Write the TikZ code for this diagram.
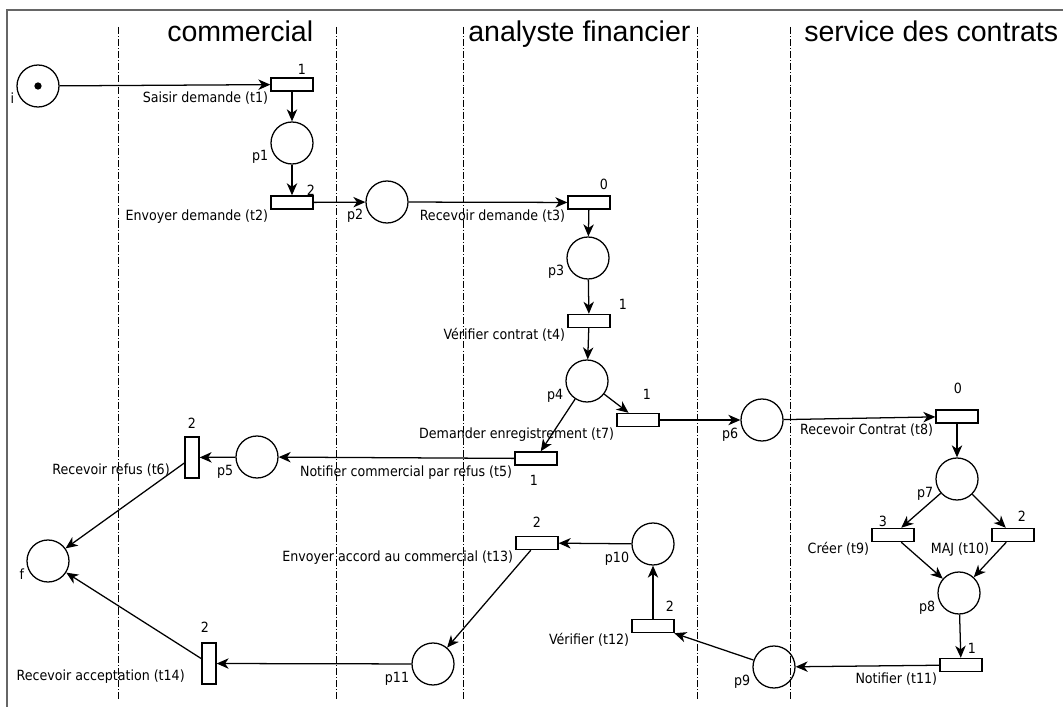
\documentclass[tikz,border=0pt]{standalone}
\usepackage{fontspec}
\setmainfont{DejaVu Sans Condensed}
\newfontfamily\lanefont{Liberation Sans}
\usetikzlibrary{arrows.meta}

\begin{document}
\begin{tikzpicture}[x=0.025cm,y=-0.025cm,font=\fontsize{10}{12}\selectfont,
  place/.style={circle,draw,line width=0.9pt,minimum size=1.05cm,inner sep=0pt},
  trans/.style={rectangle,draw,line width=0.9pt,minimum width=1.05cm,minimum height=0.33cm,inner sep=0pt},
  vtrans/.style={trans,minimum width=0.35cm,minimum height=1.025cm},
  flow/.style={line width=0.9pt,-{Stealth[length=3mm,width=2.6mm,inset=0.9mm]}},
  lane/.style={line width=0.5pt,dash pattern=on 5pt off 1.5pt on 0.6pt off 1.5pt},
  lbl/.style={inner sep=0pt,anchor=base east},
  wt/.style={inner sep=0pt,anchor=base}]

\useasboundingbox (0,0) rectangle (1063,707);

\draw[black!60,line width=1.4pt] (7,707) -- (7,10) -- (1063,10);
\foreach \x in {118,336,463,697,790}
  \draw[lane] (\x,27) -- (\x,700);

\node[font=\lanefont\fontsize{20.3}{24}\selectfont,inner sep=0pt,anchor=base west] at (167,42) {commercial};
\node[font=\lanefont\fontsize{20.3}{24}\selectfont,inner sep=0pt,anchor=base west] at (468,42) {analyste financier};
\node[font=\lanefont\fontsize{20.3}{24}\selectfont,inner sep=0pt,anchor=base west] at (804,42) {service des contrats};

\foreach \n/\x/\y in {i/38/86,p1/292/143,p2/387/202,p3/588/258,p4/587/381,p5/257/457,
  p6/762/420,p7/957/479,p8/959/593,p9/774/667,p10/653/544,p11/433/664,f/48/561}{
  \node[place] (\n) at (\x,\y) {};
  \node[lbl] at ([shift={(-2,18)}]\n.west) {\n};
}
\fill (i) circle (2.6pt);

\foreach \n/\x/\y/\txt in {t1/292/84.5/Saisir demande (t1),t2/292/202.5/Envoyer demande (t2),
  t3/589/202.5/Recevoir demande (t3),t4/589/321/Vérifier contrat (t4),
  t5/536/458.5/Notifier commercial par refus (t5),t7/638/420/Demander enregistrement (t7),
  t8/957/416.5/Recevoir Contrat (t8),t9/893/535/Créer (t9),t10/1013/535/MAJ (t10),
  t11/961/665/Notifier (t11),t12/653/626/Vérifier (t12),
  t13/537/543/Envoyer accord au commercial (t13)}{
  \node[trans] (\n) at (\x,\y) {};
  \node[lbl] at ([shift={(-2,11)}]\n.south west) {\txt};
}
\node[vtrans] (t6) at (192,457.5) {};
\node[lbl] at (170,474) {Recevoir refus (t6)};
\node[vtrans] (t14) at (209,663.5) {};
\node[lbl] at (185,680) {Recevoir acceptation (t14)};

\foreach \x/\y/\w in {302/75/1,311/196/2,604/190/0,623/310/1,647/400/1,534/485/1,
  958/394/0,883/526/3,1022/521/2,972/653/1,670/611/2,537/527/2,205/632/2,192/429/2}
  \node[wt] at (\x,\y) {\w};

\foreach \a/\b in {i/t1,t1/p1,p1/t2,t2/p2,p2/t3,t3/p3,p3/t4,t4/p4,p4/t7,p4/t5,
  t7/p6,t5/p5,p5/t6,t6/f,p6/t8,t8/p7,p7/t9,p7/t10,t9/p8,t10/p8,p8/t11,
  t11/p9,p9/t12,t12/p10,p10/t13,t13/p11,p11/t14,t14/f}
  \draw[flow] (\a) -- (\b);

\end{tikzpicture}
\end{document}
